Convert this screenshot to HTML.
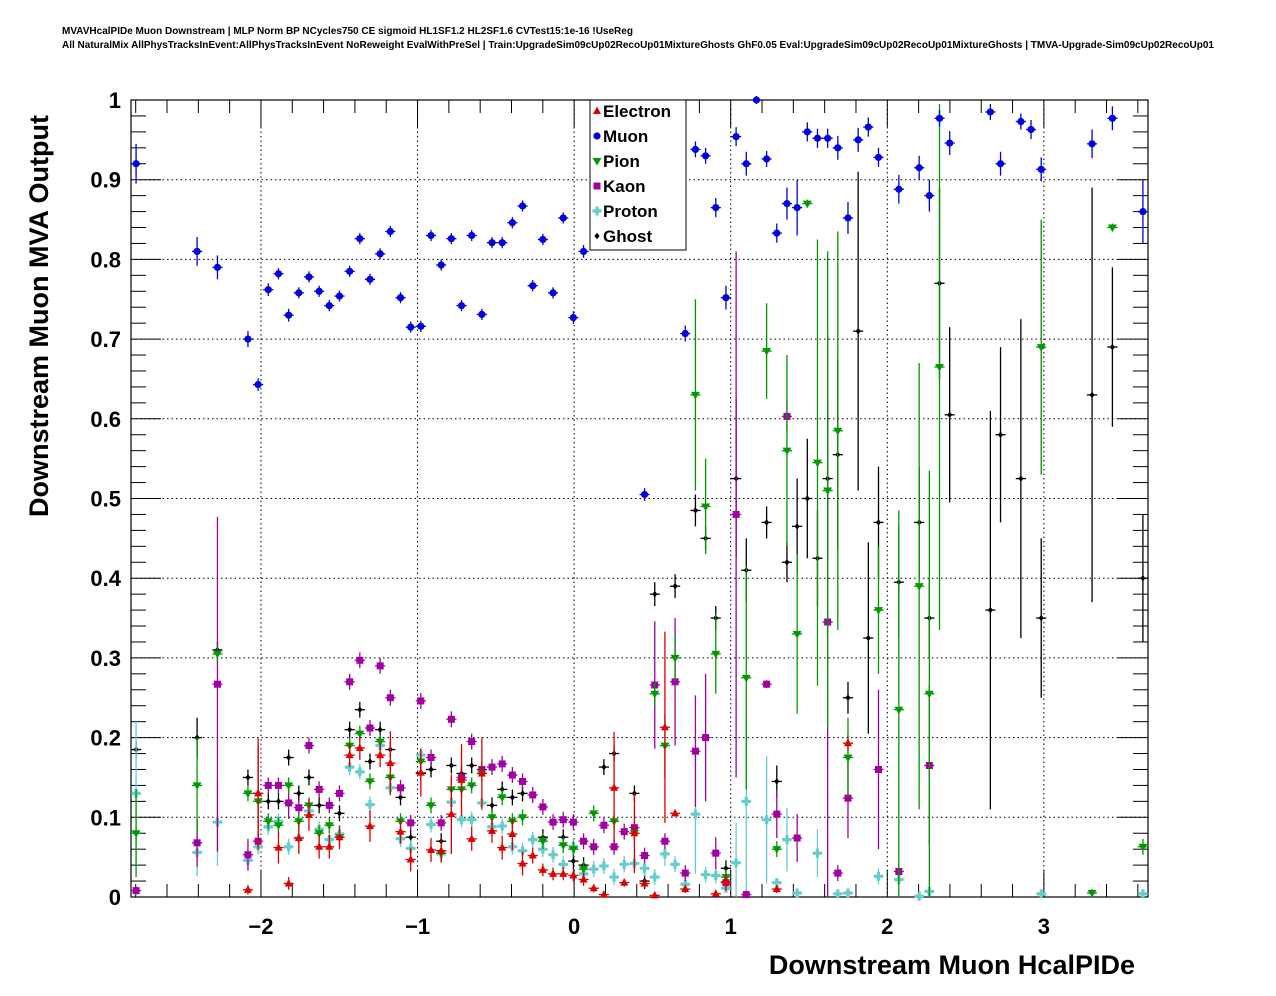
<!DOCTYPE html>
<html><head><meta charset="utf-8">
<style>
html,body{margin:0;padding:0;background:#fff;}
svg{display:block;font-family:"Liberation Sans",sans-serif;}
</style></head>
<body>
<svg id="chart" width="1276" height="996" viewBox="0 0 1276 996" xmlns="http://www.w3.org/2000/svg">
<text x="62" y="34" font-size="10" font-weight="bold">MVAVHcalPIDe Muon Downstream | MLP Norm BP NCycles750 CE sigmoid HL1SF1.2 HL2SF1.6 CVTest15:1e-16 !UseReg</text>
<text x="62" y="48" font-size="10" font-weight="bold">All NaturalMix AllPhysTracksInEvent:AllPhysTracksInEvent NoReweight EvalWithPreSel | Train:UpgradeSim09cUp02RecoUp01MixtureGhosts GhF0.05 Eval:UpgradeSim09cUp02RecoUp01MixtureGhosts | TMVA-Upgrade-Sim09cUp02RecoUp01</text>
<g id="grid"></g>
<g id="axes"></g>
<g id="marks"></g>
<text x="1135" y="974" font-size="27" font-weight="bold" text-anchor="end">Downstream Muon HcalPIDe</text>
<text transform="translate(48,316) rotate(-90)" font-size="27" font-weight="bold" text-anchor="middle">Downstream Muon MVA Output</text>
<g id="legend"></g>
</svg>
<script>
const xTicks=[-2,-1,0,1,2,3];
const xTickLabels=["\u22122","\u22121","0","1","2","3"];
const yTicks=[0,0.1,0.2,0.3,0.4,0.5,0.6,0.7,0.8,0.9,1];
const yTickLabels=["0","0.1","0.2","0.3","0.4","0.5","0.6","0.7","0.8","0.9","1"];
const seriesNames=["Electron","Muon","Pion","Kaon","Proton","Ghost"];

const muonBins=[0,6,8,11,12,13,14,15,16,17,18,19,20,21,22,23,24,25,26,27,28,29,30,31,32,33,34,35,36,37,38,39,40,41,42,43,44,50,54,55,56,57,58,59,60,61,62,63,64,65,66,67,68,69,70,71,72,73,75,77,78,79,80,84,85,87,88,89,94,96,99];
const muonVals=[0.92,0.81,0.79,0.70,0.643,0.762,0.782,0.73,0.758,0.778,0.76,0.742,0.754,0.785,0.826,0.775,0.807,0.835,0.752,0.715,0.716,0.83,0.793,0.826,0.742,0.83,0.731,0.821,0.821,0.846,0.867,0.767,0.825,0.758,0.852,0.727,0.81,0.505,0.707,0.938,0.93,0.865,0.752,0.954,0.92,1.0,0.926,0.833,0.87,0.865,0.96,0.952,0.952,0.94,0.852,0.95,0.966,0.928,0.888,0.915,0.88,0.977,0.946,0.985,0.92,0.973,0.963,0.913,0.945,0.977,0.86];
const muonErrs=[0.025,0.018,0.015,0.01,0.008,0.008,0.007,0.008,0.007,0.007,0.007,0.007,0.007,0.007,0.007,0.007,0.007,0.007,0.007,0.007,0.007,0.007,0.007,0.007,0.007,0.007,0.007,0.007,0.007,0.007,0.007,0.007,0.007,0.007,0.007,0.008,0.008,0.008,0.01,0.01,0.01,0.012,0.015,0.012,0.015,0.005,0.01,0.012,0.02,0.035,0.012,0.012,0.012,0.015,0.02,0.015,0.012,0.012,0.018,0.015,0.02,0.01,0.015,0.01,0.015,0.01,0.012,0.015,0.018,0.015,0.04];

const ghostBins=[0,6,8,11,12,13,14,15,16,17,18,20,21,22,23,24,25,26,27,28,29,30,31,32,33,35,36,37,38,40,42,43,44,46,47,49,50,51,53,55,56,57,58,59,60,62,63,64,65,66,67,68,69,70,71,72,73,75,77,78,79,80,84,85,87,89,94,96,99];
const ghostVals=[0.185,0.20,0.31,0.15,0.13,0.12,0.12,0.175,0.13,0.15,0.115,0.105,0.21,0.235,0.17,0.21,0.185,0.125,0.075,0.155,0.16,0.07,0.165,0.155,0.165,0.115,0.135,0.125,0.13,0.075,0.075,0.045,0.04,0.163,0.18,0.13,0.02,0.38,0.39,0.485,0.45,0.35,0.036,0.525,0.41,0.47,0.145,0.42,0.465,0.50,0.425,0.525,0.555,0.25,0.71,0.325,0.47,0.395,0.47,0.35,0.77,0.605,0.36,0.58,0.525,0.35,0.63,0.69,0.40];
const ghostErrs=[0.01,0.025,0.01,0.01,0.06,0.01,0.01,0.01,0.01,0.01,0.01,0.01,0.01,0.01,0.01,0.01,0.01,0.01,0.01,0.01,0.01,0.01,0.01,0.01,0.01,0.01,0.01,0.01,0.01,0.01,0.01,0.01,0.01,0.01,0.01,0.01,0.01,0.015,0.015,0.02,0.015,0.015,0.01,0.1,0.04,0.02,0.02,0.025,0.06,0.075,0.06,0.1,0.12,0.02,0.2,0.12,0.07,0.07,0.07,0.05,0.12,0.11,0.25,0.11,0.2,0.1,0.26,0.1,0.08];

const pionBins=[0,6,8,11,12,13,14,15,16,17,18,19,20,21,22,23,24,25,26,28,29,30,31,32,33,34,35,36,37,38,40,42,43,44,45,47,49,51,52,53,55,56,57,58,60,62,63,64,65,66,67,68,69,70,73,75,77,78,79,89,94,96,99];
const pionVals=[0.08,0.14,0.305,0.13,0.12,0.095,0.09,0.14,0.095,0.115,0.08,0.09,0.075,0.19,0.205,0.145,0.195,0.15,0.095,0.17,0.115,0.055,0.135,0.135,0.14,0.155,0.10,0.125,0.095,0.10,0.07,0.065,0.06,0.035,0.105,0.095,0.08,0.255,0.19,0.30,0.63,0.49,0.305,0.025,0.275,0.685,0.06,0.56,0.33,0.87,0.545,0.51,0.585,0.175,0.36,0.235,0.39,0.255,0.665,0.69,0.005,0.84,0.063];
const pionErrs=[0.055,0.06,0.01,0.01,0.01,0.01,0.01,0.01,0.01,0.01,0.01,0.01,0.01,0.01,0.01,0.01,0.01,0.01,0.01,0.01,0.01,0.01,0.01,0.01,0.01,0.01,0.01,0.01,0.01,0.01,0.01,0.01,0.01,0.01,0.01,0.01,0.01,0.015,0.04,0.03,0.12,0.06,0.05,0.01,0.14,0.06,0.01,0.12,0.1,0.005,0.28,0.3,0.25,0.05,0.08,0.25,0.28,0.28,0.33,0.16,0.005,0.005,0.01];

const kaonBins=[0,6,8,11,12,13,14,15,16,17,18,19,20,21,22,23,24,25,26,27,28,29,30,31,32,33,34,35,36,37,38,39,40,41,42,43,44,45,46,47,48,49,50,51,52,53,54,55,56,57,58,59,60,62,63,64,65,68,69,70,73,75,78];
const kaonVals=[0.008,0.068,0.267,0.053,0.07,0.14,0.14,0.118,0.112,0.19,0.135,0.115,0.13,0.27,0.297,0.212,0.29,0.25,0.137,0.093,0.246,0.175,0.093,0.223,0.15,0.195,0.16,0.163,0.167,0.153,0.145,0.128,0.113,0.094,0.097,0.094,0.07,0.063,0.09,0.063,0.082,0.087,0.052,0.266,0.07,0.27,0.03,0.183,0.20,0.055,0.018,0.48,0.003,0.267,0.104,0.603,0.074,0.345,0.03,0.124,0.16,0.032,0.165];
const kaonErrs=[0.005,0.03,0.21,0.02,0.01,0.01,0.01,0.02,0.01,0.01,0.01,0.01,0.01,0.01,0.01,0.01,0.01,0.01,0.01,0.01,0.01,0.01,0.01,0.01,0.01,0.01,0.01,0.01,0.01,0.01,0.01,0.01,0.01,0.01,0.01,0.01,0.01,0.01,0.01,0.01,0.01,0.01,0.01,0.08,0.01,0.08,0.01,0.07,0.08,0.02,0.01,0.33,0.005,0.005,0.03,0.02,0.03,0.36,0.01,0.05,0.1,0.01,0.1];

const electronBins=[11,12,14,15,16,17,18,19,20,21,22,23,24,25,26,27,28,29,30,31,32,33,34,35,36,37,38,39,40,41,42,43,44,45,46,47,48,49,50,51,52,53,54,57,58,63,70];
const electronVals=[0.009,0.13,0.062,0.017,0.074,0.103,0.063,0.063,0.075,0.178,0.187,0.089,0.178,0.168,0.082,0.047,0.156,0.059,0.058,0.104,0.147,0.073,0.155,0.083,0.062,0.079,0.042,0.052,0.034,0.029,0.029,0.027,0.022,0.011,0.003,0.137,0.018,0.08,0.017,0.002,0.213,0.105,0.01,0.004,0.019,0.01,0.193];
const electronErrs=[0.006,0.07,0.02,0.008,0.02,0.02,0.015,0.015,0.015,0.015,0.015,0.02,0.015,0.04,0.015,0.015,0.03,0.015,0.015,0.05,0.045,0.015,0.045,0.015,0.015,0.02,0.015,0.01,0.008,0.008,0.008,0.008,0.008,0.005,0.003,0.07,0.005,0.05,0.005,0.002,0.12,0.003,0.005,0.003,0.01,0.005,0.01];

const protonBins=[0,6,8,11,12,13,14,15,16,17,18,19,20,21,22,23,24,25,26,27,28,29,30,31,32,33,34,35,36,37,38,39,40,41,42,43,44,45,46,47,48,49,50,51,52,53,54,55,56,57,58,59,60,62,63,64,65,67,69,70,73,75,77,78,89,99];
const protonVals=[0.13,0.056,0.094,0.046,0.063,0.088,0.095,0.063,0.074,0.108,0.085,0.072,0.079,0.163,0.157,0.116,0.19,0.137,0.073,0.061,0.178,0.091,0.054,0.119,0.097,0.097,0.118,0.088,0.089,0.063,0.058,0.072,0.06,0.053,0.041,0.063,0.029,0.035,0.039,0.025,0.041,0.042,0.036,0.025,0.054,0.041,0.016,0.104,0.028,0.027,0.011,0.043,0.12,0.097,0.018,0.072,0.005,0.055,0.004,0.005,0.026,0.022,0.001,0.007,0.004,0.004];
const protonErrs=[0.09,0.03,0.055,0.01,0.01,0.01,0.01,0.01,0.01,0.01,0.01,0.01,0.01,0.01,0.01,0.01,0.01,0.01,0.01,0.01,0.01,0.01,0.01,0.01,0.01,0.01,0.01,0.01,0.01,0.01,0.01,0.01,0.01,0.01,0.01,0.01,0.01,0.01,0.01,0.01,0.01,0.01,0.01,0.01,0.015,0.01,0.01,0.075,0.01,0.01,0.005,0.05,0.12,0.08,0.005,0.04,0.003,0.03,0.003,0.003,0.01,0.01,0.002,0.004,0.002,0.003];

const NS="http://www.w3.org/2000/svg";
const L=131,R=1148,T=100,B=897;
const XMIN=-2.83,XMAX=3.665,YMIN=0,YMAX=1,NBINS=100;
function xs(v){return L+(v-XMIN)/(XMAX-XMIN)*(R-L);}
function ys(v){return B-(v-YMIN)/(YMAX-YMIN)*(B-T);}
function binCenter(i){return XMIN+(i+0.5)*(XMAX-XMIN)/NBINS;}
function mk(tag,attrs,parent){const e=document.createElementNS(NS,tag);for(const k in attrs)e.setAttribute(k,attrs[k]);parent.appendChild(e);return e;}

const grid=document.getElementById('grid'),axes=document.getElementById('axes'),marks=document.getElementById('marks'),legend=document.getElementById('legend');
xTicks.forEach(t=>{const l=mk('line',{x1:xs(t),x2:xs(t),y1:T,y2:B,stroke:'#000','stroke-width':1,'stroke-dasharray':'1.5,3'},grid);

});
yTicks.forEach(t=>{if(t===0||t===1)return;const l=mk('line',{x1:L,x2:R,y1:ys(t),y2:ys(t),stroke:'#000','stroke-width':1,'stroke-dasharray':'1.5,3'},grid);

});
const fr=mk('rect',{x:L,y:T,width:R-L,height:B-T,fill:'none',stroke:'#000','stroke-width':1.2},axes);


for(let v=-2.8;v<=3.65;v+=0.2){const isM=Math.abs(v-Math.round(v))<1e-6;const len=isM?27:13;const x=xs(v);
mk('line',{x1:x,x2:x,y1:B,y2:B-len,stroke:'#000'},axes);mk('line',{x1:x,x2:x,y1:T,y2:T+len,stroke:'#000'},axes);}
xTicks.forEach((t,i)=>{const tx=mk('text',{x:xs(t),y:934,'font-size':22,'font-weight':'bold','text-anchor':'middle'},axes);tx.textContent=xTickLabels[i];

});
for(let k=0;k<=50;k++){const v=k*0.02;const isM=k%5===0;const len=isM?30:15;const y=ys(v);
mk('line',{x1:L,x2:L+len,y1:y,y2:y,stroke:'#000'},axes);mk('line',{x1:R,x2:R-len,y1:y,y2:y,stroke:'#000'},axes);}
yTicks.forEach((t,i)=>{const tx=mk('text',{x:121,y:ys(t)+8,'font-size':22,'font-weight':'bold','text-anchor':'end'},axes);tx.textContent=yTickLabels[i];

});

const colors={Electron:'#dd0000',Muon:'#0000dd',Pion:'#009900',Kaon:'#a000a0',Proton:'#66cccc',Ghost:'#000000'};
function marker(type,x,y,parent){const c=colors[type];
 if(type==='Electron')return mk('polygon',{points:`${x},${y-4.5} ${x-4},${y+3} ${x+4},${y+3}`,fill:c},parent);
 if(type==='Muon')return mk('circle',{cx:x,cy:y,r:3.6,fill:c},parent);
 if(type==='Pion')return mk('polygon',{points:`${x},${y+4.5} ${x-4.5},${y-3} ${x+4.5},${y-3}`,fill:c},parent);
 if(type==='Kaon')return mk('rect',{x:x-3.5,y:y-3.5,width:7,height:7,fill:c},parent);
 if(type==='Proton')return mk('path',{d:`M${x-1.6},${y-4.5}h3.2v2.9h2.9v3.2h-2.9v2.9h-3.2v-2.9h-2.9v-3.2h2.9z`,fill:c},parent);
 return mk('path',{d:`M${x},${y-3.2}L${x+2.6},${y}L${x},${y+3.2}L${x-2.6},${y}z`,fill:c},parent);}
function drawSeries(type,bins,vals,errs){const g=mk('g',{},marks);
 
 
 const c=colors[type];const hw=(xs(1)-xs(0))*(XMAX-XMIN)/NBINS/2;
 bins.forEach((b,i)=>{const x=xs(binCenter(b));const y=ys(vals[i]);
  mk('line',{x1:x-hw,x2:x+hw,y1:y,y2:y,stroke:c,'stroke-width':1.3},g);
  mk('line',{x1:x,x2:x,y1:ys(vals[i]+errs[i]),y2:ys(Math.max(0,vals[i]-errs[i])),stroke:c,'stroke-width':1.3},g);
  const m=marker(type,x,y,g);
  
  });}
drawSeries('Ghost',ghostBins,ghostVals,ghostErrs);
drawSeries('Proton',protonBins,protonVals,protonErrs);
drawSeries('Kaon',kaonBins,kaonVals,kaonErrs);
drawSeries('Pion',pionBins,pionVals,pionErrs);
drawSeries('Electron',electronBins,electronVals,electronErrs);
drawSeries('Muon',muonBins,muonVals,muonErrs);

const lb=mk('rect',{x:590,y:100,width:96,height:150,fill:'#fff',stroke:'#000','stroke-width':1},legend);


seriesNames.forEach((n,i)=>{const y=111+i*25;const g=mk('g',{},legend);
 
 
 marker(n,597,y,g);
 const t=mk('text',{x:603,y:y+6,'font-size':17,'font-weight':'bold'},g);t.textContent=n;});
</script>
</body></html>
